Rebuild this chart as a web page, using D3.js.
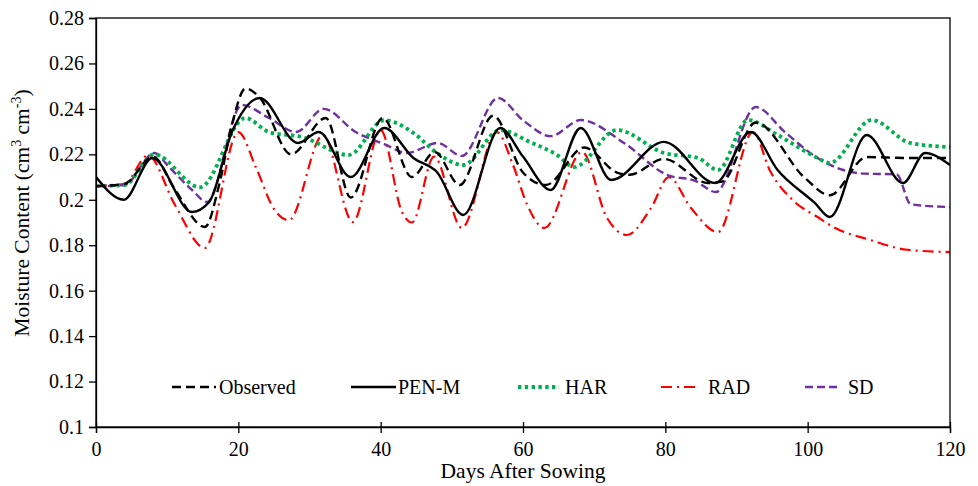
<!DOCTYPE html>
<html><head><meta charset="utf-8">
<script src="https://cdn.jsdelivr.net/npm/d3@7/dist/d3.min.js"></script>
<style>body{margin:0;background:#fff}</style>
</head><body><svg id="c" width="978" height="486"></svg>
<script>
const xTicks = [0,20,40,60,80,100,120];
const yTicks = [0.1,0.12,0.14,0.16,0.18,0.2,0.22,0.24,0.26,0.28];
const yTickLabels = ["0.1","0.12","0.14","0.16","0.18","0.2","0.22","0.24","0.26","0.28"];

const obsDays = [0,4,8,11,15.3,17.3,19.1,21,23,27.4,32.3,35.8,40.3,44.4,47.6,51.1,55.8,60,63.2,68.6,73.2,75,79.8,86,88,92.7,99.6,103.1,108.3,114,120];
const obsVals = [0.206,0.207,0.219,0.205,0.188,0.2065,0.233,0.249,0.245,0.220,0.236,0.201,0.236,0.210,0.221,0.2065,0.237,0.212,0.2065,0.223,0.212,0.211,0.218,0.2074,0.208,0.234,0.2096,0.202,0.2188,0.2184,0.2184];

const penDays = [0,3.9,7.9,13.5,15.9,19.1,23,28.4,31.3,35.8,40.5,44.6,47.9,51.6,56.8,60,63.9,68.1,72.4,79.8,87,92,95.8,101,103.1,108.3,113.4,116.5,120];
const penVals = [0.210,0.200,0.2184,0.1946,0.199,0.2298,0.2448,0.225,0.2298,0.210,0.2316,0.2184,0.2122,0.1933,0.2316,0.219,0.2043,0.2316,0.2087,0.2255,0.2074,0.2298,0.213,0.1986,0.1924,0.2285,0.2074,0.2206,0.2153];

const harDays = [0,4,8.2,14.6,21,24.3,29,35.5,40.5,44.6,47.9,51.6,56.8,61,64.8,67.2,73.2,79.8,84.6,87.4,91.6,95.8,101.4,103.1,109,114.4,120];
const harVals = [0.206,0.2065,0.220,0.2055,0.236,0.2298,0.2276,0.2197,0.235,0.2294,0.2206,0.2153,0.2307,0.2254,0.2197,0.2144,0.2307,0.2206,0.2184,0.2131,0.2351,0.2285,0.2184,0.2162,0.2351,0.225,0.2232];

const radDays = [0,4,7.3,11.1,15.3,20,22.5,25,27.1,31.9,36.1,40,43,44.4,47.5,51.4,56.3,58.6,60.6,63,68.3,71.8,74.6,78,80.5,83.6,87.4,92.3,94.8,98.2,101.4,103.6,108.8,114,120];
const radVals = [0.206,0.207,0.2195,0.1977,0.1788,0.2298,0.214,0.196,0.191,0.2285,0.1902,0.2307,0.1946,0.190,0.219,0.1876,0.2298,0.2153,0.1977,0.1876,0.221,0.192,0.1845,0.1964,0.21,0.1964,0.1858,0.2298,0.2122,0.199,0.1924,0.188,0.1823,0.178,0.177];

const sdDays = [0,4,8.2,10.2,13.5,15.6,20.5,24.3,28.1,32,36.5,40.5,43.7,48,51.4,56.5,60,63.9,68.1,74.2,80.2,84.2,87.1,92.7,96.8,101.4,105,108,112.5,114.5,120];
const sdVals = [0.206,0.2065,0.2206,0.2146,0.2043,0.199,0.2417,0.236,0.2298,0.240,0.2298,0.2245,0.2206,0.225,0.2193,0.2448,0.235,0.228,0.2351,0.225,0.211,0.2083,0.2034,0.2408,0.2298,0.2184,0.2131,0.2115,0.2112,0.198,0.1968];

const seriesNames = ["Observed","PEN-M","HAR","RAD","SD"];

const svg = d3.select("#c");
const L=96,R=950,T=18,B=427;
const x = d3.scaleLinear().domain([0,120]).range([L,R]);
const y = d3.scaleLinear().domain([0.1,0.28]).range([B,T]);
const font = "'Liberation Serif','Times New Roman',serif";

const series = [
  {name:"Observed", d:obsDays, v:obsVals, color:"#000", w:2.4, dash:"9,5"},
  {name:"PEN-M", d:penDays, v:penVals, color:"#000", w:2.4, dash:null},
  {name:"HAR", d:harDays, v:harVals, color:"#00B050", w:3.8, dash:"3.4,3.4"},
  {name:"RAD", d:radDays, v:radVals, color:"#FF0000", w:2.2, dash:"11,5,2,5"},
  {name:"SD", d:sdDays, v:sdVals, color:"#7030A0", w:2.4, dash:"8,4"}
];
const drawOrder = ["RAD","SD","HAR","Observed","PEN-M"];

const line = d3.line().x(p=>x(p[0])).y(p=>y(p[1])).curve(d3.curveMonotoneX);
const g = svg.append("g");
g.append("clipPath").attr("id","clip").append("rect").attr("x",L).attr("y",T).attr("width",R-L).attr("height",B-T);
drawOrder.forEach(n=>{
  const s = series.find(q=>q.name===n);
  const pts = s.d.map((dd,i)=>[dd,s.v[i]]);
  g.append("path").attr("d",line(pts)).attr("fill","none").attr("stroke",s.color)
   .attr("stroke-width",s.w).attr("stroke-dasharray",s.dash).attr("clip-path","url(#clip)");
});

// frame
svg.append("rect").attr("x",L).attr("y",T).attr("width",R-L).attr("height",B-T)
  .attr("fill","none").attr("stroke","#000").attr("stroke-width",1.3);

// axes
const yAxis = d3.axisLeft(y).tickValues(yTicks).tickFormat((d,i)=>yTickLabels[i]).tickSize(7).tickPadding(5);
const ya = svg.append("g").attr("transform",`translate(${L},0)`).call(yAxis);
const xAxis = d3.axisBottom(x).tickValues(xTicks).tickFormat(d3.format("d")).tickSize(6).tickPadding(9);
const xa = svg.append("g").attr("transform",`translate(0,${B})`).call(xAxis);
xa.selectAll(".tick line").attr("y1",-5);
[ya,xa].forEach(a=>{
  a.select(".domain").attr("stroke","#000").attr("stroke-width",1.3);
  a.selectAll(".tick line").attr("stroke","#000").attr("stroke-width",1.3);
  a.selectAll("text").attr("font-family",font).attr("font-size",20).attr("fill","#000");
});

// axis titles
svg.append("text").attr("x",(L+R)/2).attr("y",478).attr("text-anchor","middle")
  .attr("font-family",font).attr("font-size",21.5).text("Days After Sowing");
const yt = svg.append("text").attr("transform","translate(29,213) rotate(-90)").attr("text-anchor","middle")
  .attr("font-family",font).attr("font-size",21.5);
yt.append("tspan").text("Moisture Content (cm");
yt.append("tspan").attr("dy",-8).attr("font-size",14).text("3");
yt.append("tspan").attr("dy",8).text(" cm");
yt.append("tspan").attr("dy",-8).attr("font-size",14).text("-3");
yt.append("tspan").attr("dy",8).text(")");

// legend
const legPos = [{x1:172,x2:216,tx:219},{x1:351,x2:396,tx:398},{x1:518,x2:559,tx:565},{x1:661,x2:698,tx:708},{x1:805,x2:838,tx:848}];
const ly = 387;
seriesNames.forEach((n,i)=>{
  const s = series.find(q=>q.name===n);
  const p = legPos[i];
  svg.append("line").attr("x1",p.x1).attr("x2",p.x2).attr("y1",ly).attr("y2",ly)
    .attr("stroke",s.color).attr("stroke-width",s.w).attr("stroke-dasharray",s.dash);
  svg.append("text").attr("x",p.tx).attr("y",ly+7).attr("font-family",font).attr("font-size",20).text(n);
});
</script></body></html>
